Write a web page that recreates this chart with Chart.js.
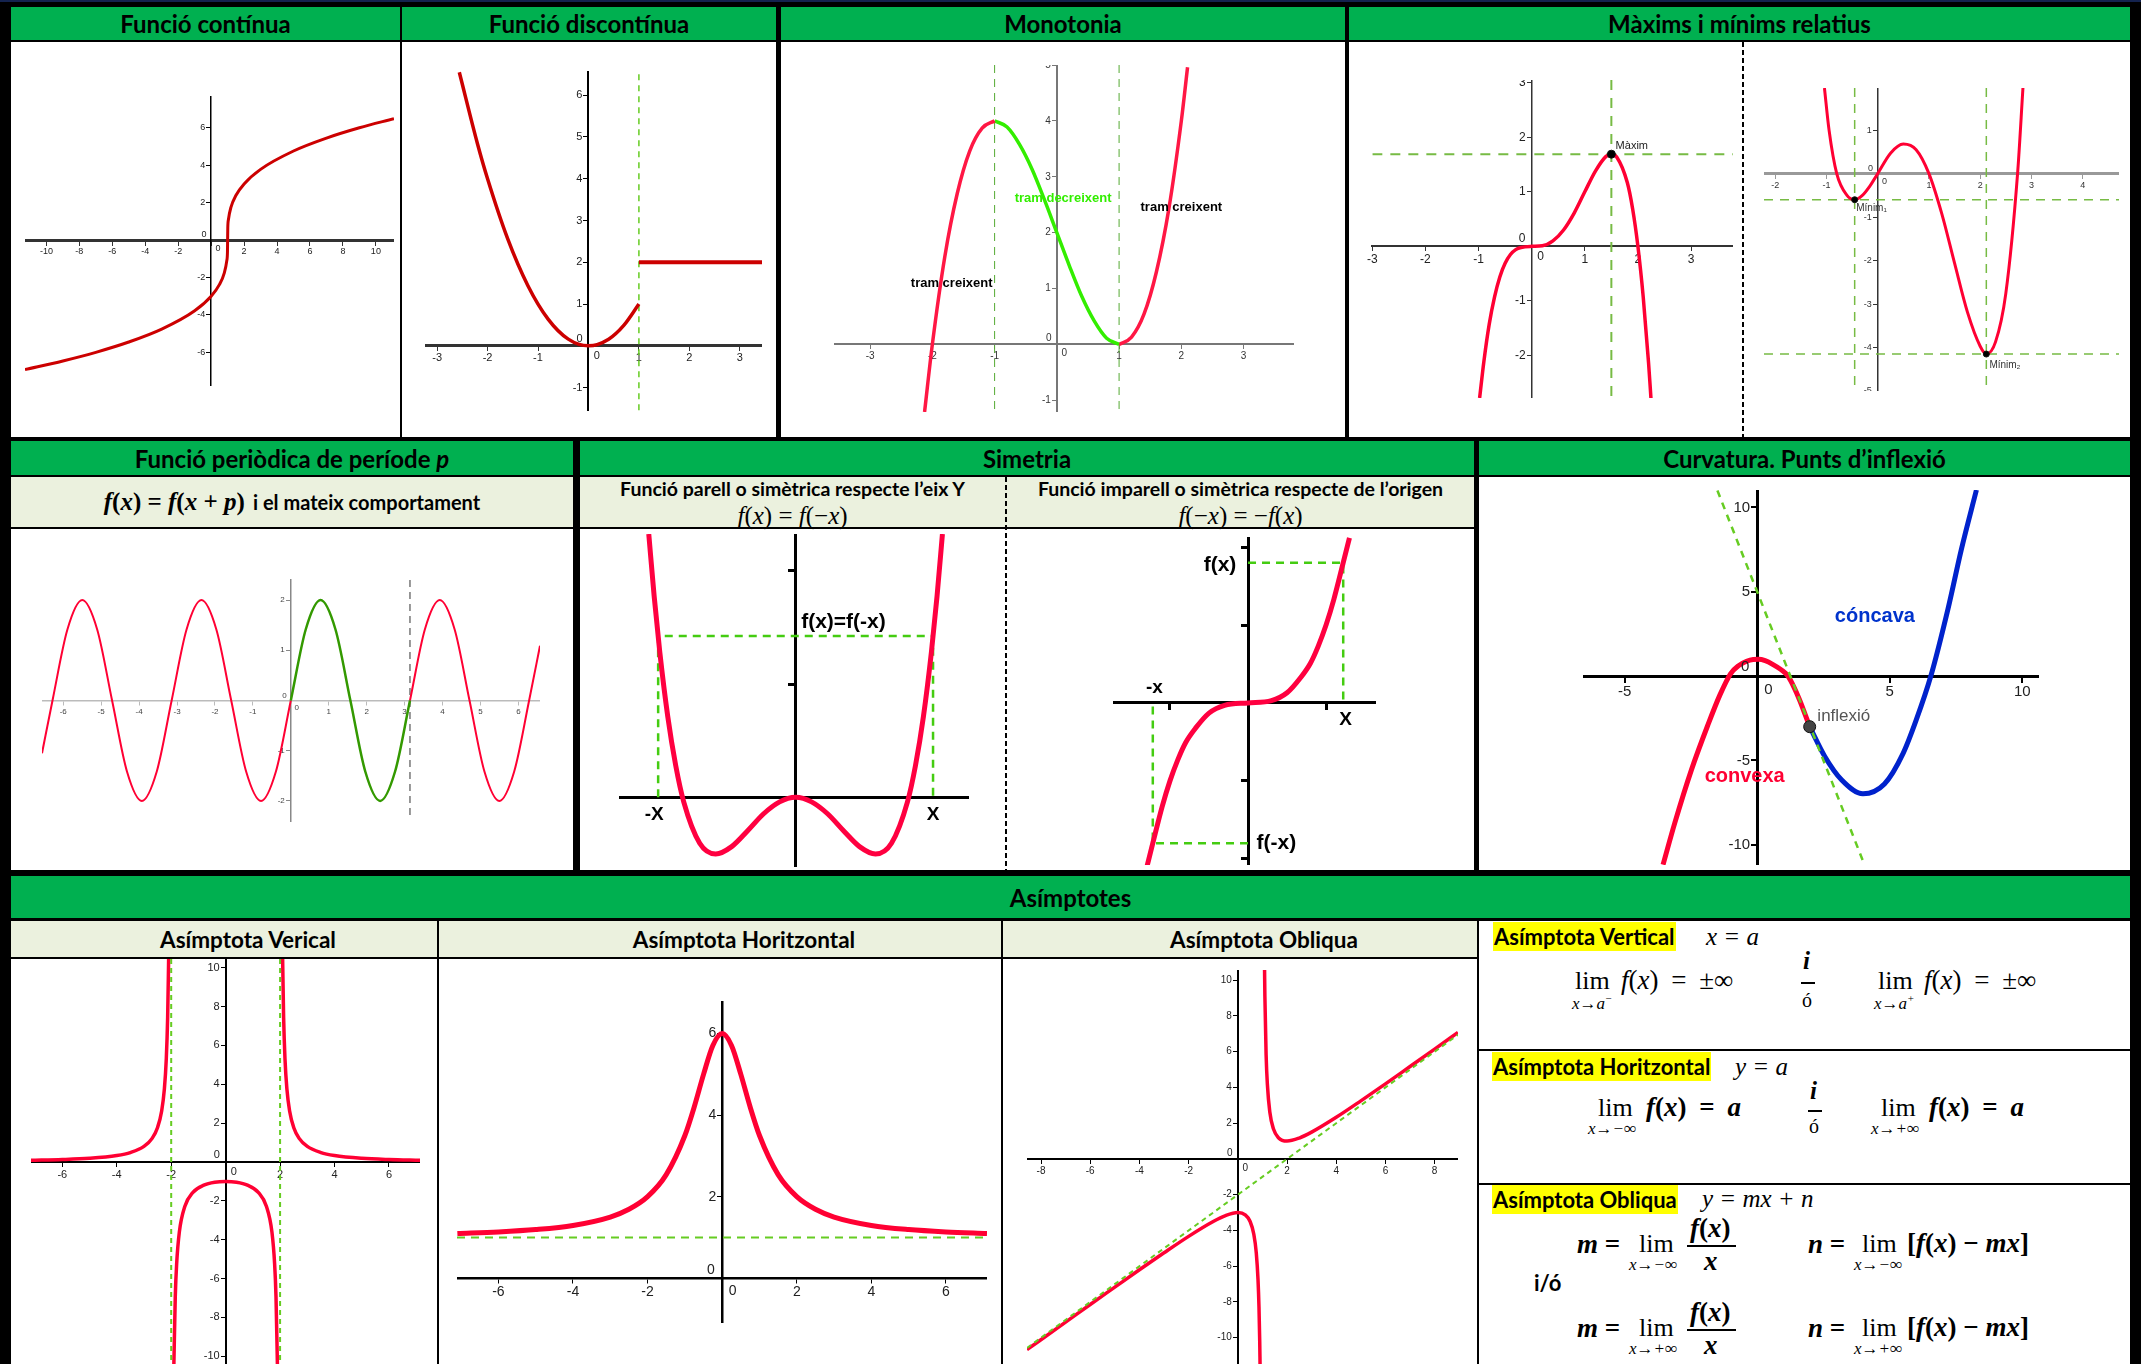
<!DOCTYPE html>
<html lang="ca">
<head>
<meta charset="UTF-8">
<title>Propietats de les funcions</title>
<script src="https://cdn.jsdelivr.net/npm/chart.js"></script>
<style>
  body { margin: 0; width: 2141px; height: 1364px; background: #000; position: relative; overflow: hidden; font-family: Lato, sans-serif; }
  .top { position: absolute; left: 0; top: 0; width: 2141px; height: 2px; background: #14234f; }
  .cell { position: absolute; background: #fff; }
  .hdr { position: absolute; background: #00b050; display: flex; align-items: center; justify-content: center; font-weight: 700; font-size: 24px; color: #000; }
  .sub { position: absolute; background: #ebf1de; }
  .subt { position: absolute; background: #ebf1de; display: flex; align-items: center; justify-content: center; font-weight: 700; font-size: 22.5px; padding-left: 48px; box-sizing: border-box; }
  .dots { position: absolute; height: 2px; background: repeating-linear-gradient(90deg, #000 0 5px, transparent 5px 7px); }
  .vdots { position: absolute; width: 2px; background: repeating-linear-gradient(180deg, #000 0 5px, transparent 5px 8px); }
  .chart { position: absolute; }
  .a { position: absolute; white-space: nowrap; line-height: 1; }
  .mr { font-family: "Liberation Serif", "DejaVu Serif", serif; }
  .mi { font-family: "Liberation Serif", "DejaVu Serif", serif; font-style: italic; }
  .b { font-weight: 700; }
  .ws { word-spacing: 6px; }
  .hl { background: #ffff00; font-weight: 700; font-size: 22px; height: 29px; line-height: 29px; padding: 0 1px; }
  .line { position: absolute; background: #000; }
  .ctr { position: absolute; text-align: center; white-space: nowrap; line-height: 1; }
</style>
</head>
<body>
<div class="top"></div>

<!-- fila 1 -->
<div class="hdr" style="left:11px;top:7px;width:389px;height:33px">Funció contínua</div>
<div class="hdr" style="left:402px;top:7px;width:374px;height:33px">Funció discontínua</div>
<div class="hdr" style="left:781px;top:7px;width:564px;height:33px">Monotonia</div>
<div class="hdr" style="left:1349px;top:7px;width:781px;height:33px">Màxims i mínims relatius</div>
<div class="cell" style="left:11px;top:42px;width:389px;height:395px"></div>
<div class="cell" style="left:402px;top:42px;width:374px;height:395px"></div>
<div class="cell" style="left:781px;top:42px;width:564px;height:395px"></div>
<div class="cell" style="left:1349px;top:42px;width:781px;height:395px"></div>
<div class="vdots" style="left:1742px;top:42px;height:395px"></div>

<!-- fila 2 -->
<div class="hdr" style="left:11px;top:441px;width:562px;height:34px">Funció periòdica de període&nbsp;<i>p</i></div>
<div class="hdr" style="left:580px;top:441px;width:894px;height:34px">Simetria</div>
<div class="hdr" style="left:1479px;top:441px;width:651px;height:34px">Curvatura. Punts d’inflexió</div>
<div class="sub" style="left:11px;top:477px;width:562px;height:50px"></div>
<div class="sub" style="left:580px;top:477px;width:894px;height:50px"></div>
<div class="dots" style="left:11px;top:527px;width:562px"></div>
<div class="dots" style="left:580px;top:527px;width:894px"></div>
<div class="cell" style="left:11px;top:529px;width:562px;height:341px"></div>
<div class="cell" style="left:580px;top:529px;width:894px;height:341px"></div>
<div class="cell" style="left:1479px;top:477px;width:651px;height:393px"></div>
<div class="vdots" style="left:1005px;top:477px;height:393px"></div>

<div class="ctr" style="left:11px;top:489px;width:562px">
  <span class="mr b" style="font-size:25px"><i>f</i>(<i>x</i>) = <i>f</i>(<i>x</i> + <i>p</i>)</span>&nbsp;&nbsp;<span class="b" style="font-size:20px">i el mateix comportament</span>
</div>
<div class="ctr b" style="left:580px;top:479px;width:425px;font-size:19.5px">Funció parell o simètrica respecte l’eix Y</div>
<div class="ctr mr" style="left:580px;top:503px;width:425px;font-size:25px"><i>f</i>(<i>x</i>) = <i>f</i>(−<i>x</i>)</div>
<div class="ctr b" style="left:1007px;top:479px;width:467px;font-size:19.5px">Funció imparell o simètrica respecte de l’origen</div>
<div class="ctr mr" style="left:1007px;top:503px;width:467px;font-size:25px"><i>f</i>(−<i>x</i>) = −<i>f</i>(<i>x</i>)</div>

<!-- fila 3 -->
<div class="hdr" style="left:11px;top:876px;width:2119px;height:42px">Asímptotes</div>
<div class="subt" style="left:11px;top:921px;width:426px;height:36px">Asímptota Verical</div>
<div class="subt" style="left:439px;top:921px;width:562px;height:36px">Asímptota Horitzontal</div>
<div class="subt" style="left:1003px;top:921px;width:474px;height:36px">Asímptota Obliqua</div>
<div class="cell" style="left:11px;top:959px;width:426px;height:405px"></div>
<div class="cell" style="left:439px;top:959px;width:562px;height:405px"></div>
<div class="cell" style="left:1003px;top:959px;width:474px;height:405px"></div>
<div class="cell" style="left:1479px;top:921px;width:651px;height:128px"></div>
<div class="cell" style="left:1479px;top:1051px;width:651px;height:132px"></div>
<div class="cell" style="left:1479px;top:1185px;width:651px;height:179px"></div>

<!-- asímptota vertical -->
<div class="a hl" style="left:1493px;top:922px">Asímptota Vertical</div>
<div class="a mi" style="left:1706px;top:924px;font-size:25px">x = a</div>
<div class="a mr" style="left:1575px;top:968px;font-size:26px">lim</div>
<div class="a mi" style="left:1572px;top:993px;font-size:17px">x→a<sup style="font-size:11px">−</sup></div>
<div class="a mr ws" style="left:1621px;top:967px;font-size:27px"><i>f</i>(<i>x</i>) = ±∞</div>
<div class="a mr b" style="left:1803px;top:948px;font-size:25px"><i>i</i></div>
<div class="line" style="left:1801px;top:982px;width:14px;height:2px"></div>
<div class="a mr" style="left:1802px;top:990px;font-size:20px">ó</div>
<div class="a mr" style="left:1878px;top:968px;font-size:26px">lim</div>
<div class="a mi" style="left:1874px;top:993px;font-size:17px">x→a<sup style="font-size:11px">+</sup></div>
<div class="a mr ws" style="left:1924px;top:967px;font-size:27px"><i>f</i>(<i>x</i>) = ±∞</div>

<!-- asímptota horitzontal -->
<div class="a hl" style="left:1492px;top:1052px">Asímptota Horitzontal</div>
<div class="a mi" style="left:1735px;top:1054px;font-size:25px">y = a</div>
<div class="a mr" style="left:1598px;top:1095px;font-size:26px">lim</div>
<div class="a mi" style="left:1588px;top:1120px;font-size:17px">x→−∞</div>
<div class="a mr b ws" style="left:1646px;top:1094px;font-size:27px"><i>f</i>(<i>x</i>) = <i>a</i></div>
<div class="a mr b" style="left:1810px;top:1078px;font-size:25px"><i>i</i></div>
<div class="line" style="left:1808px;top:1110px;width:14px;height:2px"></div>
<div class="a mr" style="left:1809px;top:1116px;font-size:20px">ó</div>
<div class="a mr" style="left:1881px;top:1095px;font-size:26px">lim</div>
<div class="a mi" style="left:1871px;top:1120px;font-size:17px">x→+∞</div>
<div class="a mr b ws" style="left:1929px;top:1094px;font-size:27px"><i>f</i>(<i>x</i>) = <i>a</i></div>

<!-- asímptota obliqua -->
<div class="a hl" style="left:1492px;top:1185px">Asímptota Obliqua</div>
<div class="a mi" style="left:1702px;top:1186px;font-size:25px">y = mx + n</div>

<div class="a mr b" style="left:1577px;top:1231px;font-size:27px"><i>m</i> =</div>
<div class="a mr" style="left:1639px;top:1231px;font-size:26px">lim</div>
<div class="a mi" style="left:1629px;top:1256px;font-size:17px">x→−∞</div>
<div class="a mr b" style="left:1690px;top:1215px;font-size:27px"><i>f</i>(<i>x</i>)</div>
<div class="line" style="left:1687px;top:1245px;width:49px;height:2px"></div>
<div class="a mi b" style="left:1704px;top:1248px;font-size:27px">x</div>
<div class="a mr b" style="left:1808px;top:1231px;font-size:27px"><i>n</i> =</div>
<div class="a mr" style="left:1862px;top:1231px;font-size:26px">lim</div>
<div class="a mi" style="left:1854px;top:1256px;font-size:17px">x→−∞</div>
<div class="a mr b" style="left:1907px;top:1230px;font-size:27px">[<i>f</i>(<i>x</i>) − <i>mx</i>]</div>

<div class="a b" style="left:1534px;top:1272px;font-size:22px">i/ó</div>

<div class="a mr b" style="left:1577px;top:1315px;font-size:27px"><i>m</i> =</div>
<div class="a mr" style="left:1639px;top:1315px;font-size:26px">lim</div>
<div class="a mi" style="left:1629px;top:1340px;font-size:17px">x→+∞</div>
<div class="a mr b" style="left:1690px;top:1299px;font-size:27px"><i>f</i>(<i>x</i>)</div>
<div class="line" style="left:1687px;top:1329px;width:49px;height:2px"></div>
<div class="a mi b" style="left:1704px;top:1332px;font-size:27px">x</div>
<div class="a mr b" style="left:1808px;top:1315px;font-size:27px"><i>n</i> =</div>
<div class="a mr" style="left:1862px;top:1315px;font-size:26px">lim</div>
<div class="a mi" style="left:1854px;top:1340px;font-size:17px">x→+∞</div>
<div class="a mr b" style="left:1907px;top:1314px;font-size:27px">[<i>f</i>(<i>x</i>) − <i>mx</i>]</div>

<script>
// ---- valors llegits de la imatge ----
// Funció contínua
const contX = [-11.3, -9, -7, -5, -3, -1, 0, 0.5, 0.8, 0.95, 0.99, 1, 1.01, 1.05, 1.2, 1.5, 2, 3, 5, 7, 9, 11.1];
const contY = [-6.92, -6.46, -6.0, -5.45, -4.76, -3.78, -3.0, -2.38, -1.75, -1.1, -0.65, 0, 0.65, 1.1, 1.75, 2.38, 3.0, 3.78, 4.76, 5.45, 6.0, 6.49];
// Funció discontínua
const parX = [-2.56, -2.2, -2, -1.6, -1.2, -0.8, -0.4, 0, 0.4, 0.7, 1];
const parY = [6.55, 4.84, 4, 2.56, 1.44, 0.64, 0.16, 0, 0.16, 0.49, 1];
const stepX = [1, 3.44];
const stepY = [2, 2];
const discDashX = [1, 1];
const discDashY = [6.5, -1.56];
// Monotonia
const monoRed1X = [-2.125, -2, -1.8, -1.6, -1.4, -1.2, -1];
const monoRed1Y = [-1.21, 0, 1.57, 2.7, 3.46, 3.87, 4];
const monoGreenX = [-1, -0.8, -0.6, -0.4, -0.2, 0, 0.2, 0.4, 0.6, 0.8, 1];
const monoGreenY = [4, 3.89, 3.58, 3.14, 2.59, 2, 1.41, 0.86, 0.42, 0.11, 0];
const monoRed2X = [1, 1.2, 1.4, 1.6, 1.8, 2, 2.1];
const monoRed2Y = [0, 0.13, 0.54, 1.3, 2.43, 4, 4.96];
const monoDashX = [-1, 1];
// Màxim
const maxX = [-0.98, -0.9, -0.8, -0.7, -0.6, -0.5, -0.4, -0.3, -0.2, 0, 0.2, 0.4, 0.6, 0.8, 1, 1.2, 1.4, 1.5, 1.6, 1.8, 1.9, 2, 2.1, 2.2, 2.245];
const maxY = [-2.78, -2.11, -1.43, -0.93, -0.56, -0.31, -0.15, -0.06, -0.02, 0, 0.01, 0.10, 0.30, 0.61, 1.0, 1.38, 1.65, 1.69, 1.64, 1.17, 0.69, 0, -0.93, -2.13, -2.78];
const maxPt = [1.5, 1.69];
// Mínims
const minX = [-1.04, -0.95, -0.8, -0.6, -0.45, -0.3, -0.15, 0, 0.25, 0.5, 0.75, 1, 1.25, 1.5, 1.75, 2, 2.12, 2.3, 2.5, 2.73, 2.835];
const minY = [1.97, 1.0, 0, -0.5, -0.6, -0.5, -0.28, 0, 0.47, 0.68, 0.55, 0, -0.92, -2.06, -3.18, -3.97, -4.15, -3.87, -2.76, 0, 1.97];
const minPtX = [-0.45, 2.12];
const minPtY = [-0.6, -4.15];
// Funció periòdica
const perLeftX = [-6.56, -6.283, -5.890, -5.498, -5.105, -4.712, -4.320, -3.927, -3.534, -3.142, -2.749, -2.356, -1.963, -1.571, -1.178, -0.785, -0.393, 0];
const perLeftY = [-1.05, 0, 1.414, 2, 1.414, 0, -1.414, -2, -1.414, 0, 1.414, 2, 1.414, 0, -1.414, -2, -1.414, 0];
const perMidX = [0, 0.393, 0.785, 1.178, 1.571, 1.963, 2.356, 2.749, 3.142];
const perMidY = [0, 1.414, 2, 1.414, 0, -1.414, -2, -1.414, 0];
const perRightX = [3.142, 3.534, 3.927, 4.320, 4.712, 5.105, 5.498, 5.890, 6.283, 6.57];
const perRightY = [0, 1.414, 2, 1.414, 0, -1.414, -2, -1.414, 0, 1.09];
const perDashY = [2.4, -2.35];
// Simetria parella
const evenX = [-1.8375, -1.77, -1.7, -1.6, -1.5, -1.4, -1.2, -1, -0.8, -0.6, -0.4, -0.2, 0, 0.2, 0.4, 0.6, 0.8, 1, 1.2, 1.4, 1.5, 1.6, 1.7, 1.77, 1.8375];
const evenY = [4.65, 3.55, 2.57, 1.43, 0.56, -0.08, -0.81, -1, -0.87, -0.59, -0.29, -0.08, 0, -0.08, -0.29, -0.59, -0.87, -1, -0.81, -0.08, 0.56, 1.43, 2.57, 3.55, 4.65];
const evenDashX = [-1.72, -1.72, 1.72, 1.72];
const evenDashY = [0, 2.85, 2.85, 0];
// Simetria imparella
const oddX = [-1.30, -1.22, -1.1, -1.0, -0.9, -0.8, -0.67, -0.5, -0.3, 0, 0.3, 0.5, 0.67, 0.8, 0.9, 1.0, 1.1, 1.22, 1.30];
const oddY = [-2.12, -1.80, -1.33, -1.0, -0.73, -0.51, -0.32, -0.13, -0.03, 0, 0.03, 0.13, 0.32, 0.51, 0.73, 1.0, 1.33, 1.80, 2.12];
const oddDashPX = [0, 1.22, 1.22];
const oddDashPY = [1.80, 1.80, 0];
const oddDashNX = [0, -1.22, -1.22];
const oddDashNY = [-1.80, -1.80, 0];
// Curvatura
const curvRedX = [-3.55, -3.11, -2.48, -1.86, -1.4, -1.0, -0.7, -0.4, -0.15, 0.05, 0.3, 0.6, 0.9, 1.16, 1.4, 1.6, 1.98];
const curvRedY = [-11.18, -8.72, -5.56, -2.9, -1.1, 0.15, 0.62, 0.88, 0.98, 0.99, 0.91, 0.68, 0.38, 0, -0.7, -1.42, -3.0];
const curvBlueX = [1.98, 2.55, 3.18, 3.99, 4.8, 5.5, 6.0, 6.55, 7.2, 7.7, 8.27];
const curvBlueY = [-3.0, -4.77, -6.15, -6.98, -6.4, -4.6, -2.6, 0, 4.0, 7.5, 11.03];
const tangX = [-1.5, 4.03];
const tangY = [11.0, -11.12];
const inflX = [1.98];
const inflY = [-3.0];
// Asímptota vertical
const avLeftX = [-7.15, -6, -5, -4, -3.5, -3, -2.7, -2.5, -2.35, -2.25, -2.18, -2.13, -2.094];
const avLeftY = [0.085, 0.125, 0.19, 0.333, 0.485, 0.8, 1.216, 1.778, 2.627, 3.765, 5.316, 7.45, 10.45];
const avMidX = [-1.902, -1.85, -1.8, -1.7, -1.5, -1.2, -0.8, -0.4, 0, 0.4, 0.8, 1.2, 1.5, 1.7, 1.8, 1.85, 1.902];
const avMidY = [-10.45, -6.93, -5.26, -3.6, -2.29, -1.56, -1.19, -1.04, -1, -1.04, -1.19, -1.56, -2.29, -3.6, -5.26, -6.93, -10.45];
const avRightX = [2.094, 2.13, 2.18, 2.25, 2.35, 2.5, 2.7, 3, 3.5, 4, 5, 6, 7.14];
const avRightY = [10.45, 7.45, 5.316, 3.765, 2.627, 1.778, 1.216, 0.8, 0.485, 0.333, 0.19, 0.125, 0.085];
const avDashY = [10.45, -10.4];
// Asímptota horitzontal
const ahX = [-7.1, -6, -5, -4, -3, -2.5, -2, -1.5, -1, -0.75, -0.5, -0.25, 0, 0.25, 0.5, 0.75, 1, 1.5, 2, 2.5, 3, 4, 5, 6, 7.1];
const ahY = [1.097, 1.135, 1.192, 1.294, 1.5, 1.69, 2.0, 2.54, 3.5, 4.2, 5.0, 5.71, 6.0, 5.71, 5.0, 4.2, 3.5, 2.54, 2.0, 1.69, 1.5, 1.294, 1.192, 1.135, 1.097];
const ahDashX = [-7.11, 7.1];
const ahDashY = [1, 1];
// Asímptota obliqua
const aoRightX = [1.087, 1.1, 1.15, 1.2, 1.3, 1.45, 1.65, 2, 2.5, 3, 4, 5, 6, 7, 8, 8.95];
const aoRightY = [10.58, 9.1, 5.82, 4.2, 2.63, 1.67, 1.19, 1, 1.17, 1.5, 2.33, 3.25, 4.2, 5.17, 6.14, 7.08];
const aoLeftX = [-8.57, -7, -6, -5, -4, -3, -2, -1, -0.5, 0, 0.3, 0.5, 0.65, 0.75, 0.82, 0.86, 0.89, 0.904];
const aoLeftY = [-10.67, -9.13, -8.14, -7.17, -6.2, -5.25, -4.33, -3.5, -3.17, -3.0, -3.13, -3.5, -4.21, -5.25, -6.74, -8.28, -10.2, -11.5];
const aoDashX = [-8.57, 8.95];
const aoDashY = [-10.57, 6.95];

// ---- estil ----
const RED = '#ff0033';
const DRED = '#cc0000';
const LIME = '#66cc22';
const SANS = '"Liberation Sans", Arial, sans-serif';
Chart.defaults.font.family = SANS;

// caixes de cada gràfic: left, top, width, height
const boxes = {
  cont: [25, 96, 369, 290],
  disc: [425, 71, 337, 340],
  mono: [834, 65, 460, 347],
  max: [1365, 80, 368, 318],
  min: [1764, 88, 355, 303],
  per: [42, 579, 498, 243],
  even: [619, 534, 350, 333],
  odd: [1113, 537, 263, 328],
  curv: [1583, 490, 456, 375],
  av: [31, 959, 389, 405],
  ah: [457, 1001, 530, 322],
  ao: [1027, 970, 431, 394]
};

// etiquetes de l'eix Y (a l'esquerra de l'eix) i textos sobre el gràfic
const annot = {
  id: 'annot',
  beforeDatasetsDraw(chart, args, opts) {
    const yl = opts.yl;
    if (!yl) return;
    const ctx = chart.ctx, sx = chart.scales.x, sy = chart.scales.y;
    const x0 = sx.getPixelForValue(0) - yl.tl - 2;
    ctx.save();
    ctx.font = yl.fs + 'px ' + SANS;
    ctx.fillStyle = yl.color;
    ctx.textAlign = 'right';
    ctx.textBaseline = 'middle';
    for (const t of sy.ticks) {
      if (t.value !== 0) ctx.fillText(String(t.value), x0, sy.getPixelForValue(t.value));
    }
    ctx.restore();
  },
  afterDatasetsDraw(chart, args, opts) {
    const ctx = chart.ctx, sx = chart.scales.x, sy = chart.scales.y;
    for (const t of opts.items || []) {
      ctx.save();
      ctx.font = t.font;
      ctx.fillStyle = t.color || '#000';
      ctx.textAlign = t.align || 'center';
      ctx.textBaseline = 'middle';
      ctx.fillText(t.text, sx.getPixelForValue(t.x) + (t.dx || 0), sy.getPixelForValue(t.y) + (t.dy || 0));
      ctx.restore();
    }
  }
};
Chart.register(annot);

const pts = (xs, ys) => xs.map((x, i) => ({x: x, y: ys[i]}));

function curve(xs, ys, color, width) {
  return {data: pts(xs, ys), showLine: true, borderColor: color, borderWidth: width, pointRadius: 0,
    cubicInterpolationMode: 'monotone', fill: false};
}
function dash(xs, ys, color, width, pattern) {
  return {data: pts(xs, ys), showLine: true, borderColor: color, borderWidth: width, pointRadius: 0,
    borderDash: pattern, tension: 0, fill: false};
}
function dots(xs, ys, color, r) {
  return {data: pts(xs, ys), showLine: false, pointRadius: r, backgroundColor: color, borderColor: '#111', borderWidth: 1};
}

function axis(min, max, step, o) {
  o = o || {};
  return {
    type: 'linear', min: min, max: max,
    grid: {display: o.noTicks ? false : true, drawOnChartArea: false, drawTicks: true, tickLength: o.tl || 4, color: o.color || '#000', lineWidth: o.tw || 1},
    border: {display: true, color: o.color || '#000', width: o.width || 2},
    ticks: {display: !o.hide, stepSize: step, includeBounds: false, autoSkip: false, maxRotation: 0, padding: 2,
      color: o.tc || '#222', font: {size: o.fs || 10},
      callback: v => (v === 0 ? '' : String(v))}
  };
}

function zero(fs, color) {
  const f = fs + 'px ' + SANS;
  return [
    {x: 0, y: 0, dx: 0.75 * fs, dy: 0.9 * fs, text: '0', font: f, color: color || '#222'},
    {x: 0, y: 0, dx: -0.8 * fs, dy: -0.6 * fs, text: '0', font: f, color: color || '#222'}
  ];
}

function plot(id, datasets, xs, ys, items) {
  const b = boxes[id];
  const wrap = document.createElement('div');
  wrap.className = 'chart';
  wrap.style.cssText = 'left:' + b[0] + 'px;top:' + b[1] + 'px;width:' + b[2] + 'px;height:' + b[3] + 'px';
  const cv = document.createElement('canvas');
  wrap.appendChild(cv);
  document.body.appendChild(wrap);
  xs.position = {y: 0};
  ys.position = {x: 0};
  // les etiquetes Y les dibuixa el connector, alineades a l'esquerra de l'eix
  const yl = ys.ticks.display ? {fs: ys.ticks.font.size, color: ys.ticks.color, tl: ys.grid.tickLength} : null;
  ys.ticks.display = false;
  return new Chart(cv, {
    type: 'scatter',
    data: {datasets: datasets},
    options: {
      responsive: true, maintainAspectRatio: false, animation: false, events: [],
      layout: {padding: 0, autoPadding: false},
      plugins: {legend: {display: false}, tooltip: {enabled: false}, annot: {items: items || [], yl: yl}},
      scales: {x: xs, y: ys}
    }
  });
}

// Funció contínua
plot('cont', [curve(contX, contY, DRED, 3)],
  axis(-11.3, 11.1, 2, {fs: 9, width: 3, color: '#333'}),
  axis(-7.8, 7.7, 2, {fs: 9, width: 1.5}),
  zero(9));

// Funció discontínua
plot('disc', [
    curve(parX, parY, DRED, 3.5),
    curve(stepX, stepY, DRED, 4),
    dash(discDashX, discDashY, LIME, 1.5, [6, 5])
  ],
  axis(-3.24, 3.44, 1, {fs: 11, width: 3, color: '#333'}),
  axis(-1.56, 6.58, 1, {fs: 11, width: 2}),
  zero(11));

// Monotonia
const monoLbl = 'bold 13px ' + SANS;
plot('mono', [
    curve(monoRed1X, monoRed1Y, '#ff1744', 3.5),
    curve(monoGreenX, monoGreenY, '#33ee00', 3.5),
    curve(monoRed2X, monoRed2Y, '#ff1744', 3.5),
    dash([monoDashX[0], monoDashX[0]], [5, -1.21], '#55aa33', 1, [8, 6]),
    dash([monoDashX[1], monoDashX[1]], [5, -1.21], '#55aa33', 1, [8, 6])
  ],
  axis(-3.58, 3.81, 1, {fs: 10, width: 2, color: '#777', tc: '#333'}),
  axis(-1.21, 5.0, 1, {fs: 10, width: 2, color: '#777', tc: '#333'}),
  zero(10, '#333').concat([
    {x: -1.69, y: 1.09, text: 'tram creixent', font: monoLbl},
    {x: 0.1, y: 2.61, text: 'tram decreixent', font: monoLbl, color: '#33ee00'},
    {x: 2.0, y: 2.45, text: 'tram creixent', font: monoLbl}
  ]));

// Màxim
plot('max', [
    dots([maxPt[0]], [maxPt[1]], '#000', 4),
    curve(maxX, maxY, RED, 3.5),
    dash([-3.0, 3.79], [maxPt[1], maxPt[1]], '#77bb44', 2, [10, 8]),
    dash([maxPt[0], maxPt[0]], [3.05, -2.78], '#77bb44', 2, [10, 8])
  ],
  axis(-3.0, 3.79, 1, {fs: 12, width: 2, color: '#333'}),
  axis(-2.78, 3.05, 1, {fs: 12, width: 1.5, color: '#333'}),
  zero(12).concat([{x: 1.58, y: 1.84, text: 'Màxim', font: '11px ' + SANS, align: 'left', color: '#222'}]));

// Mínims
plot('min', [
    dots(minPtX, minPtY, '#000', 3),
    curve(minX, minY, RED, 3),
    dash([-2.22, 4.71], [minPtY[0], minPtY[0]], '#77bb44', 1.5, [9, 7]),
    dash([-2.22, 4.71], [minPtY[1], minPtY[1]], '#77bb44', 1.5, [9, 7]),
    dash([minPtX[0], minPtX[0]], [1.97, -5], '#77bb44', 1.5, [9, 7]),
    dash([minPtX[1], minPtX[1]], [1.97, -5], '#77bb44', 1.5, [9, 7])
  ],
  axis(-2.22, 4.71, 1, {fs: 9, width: 3, color: '#999', tc: '#333'}),
  axis(-5.0, 1.97, 1, {fs: 9, width: 1.5, color: '#333', tc: '#333'}),
  zero(9, '#333').concat([
    {x: -0.42, y: -0.8, text: 'Mínim₁', font: '10px ' + SANS, align: 'left', color: '#333'},
    {x: 2.18, y: -4.4, text: 'Mínim₂', font: '10px ' + SANS, align: 'left', color: '#333'}
  ]));

// Funció periòdica
plot('per', [
    curve(perMidX, perMidY, '#339900', 2.5),
    curve(perLeftX, perLeftY, RED, 2),
    curve(perRightX, perRightY, RED, 2),
    dash([Math.PI, Math.PI], perDashY, '#777', 1.5, [7, 5])
  ],
  axis(-6.56, 6.57, 1, {fs: 8, width: 1.5, color: '#bbb', tc: '#444'}),
  axis(-2.42, 2.42, 1, {fs: 8, width: 1.5, color: '#888', tc: '#444'}),
  zero(8, '#444'));

// Simetria: funció parella
const symFont = 'bold 21px ' + SANS;
plot('even', [
    curve(evenX, evenY, '#ff0040', 5),
    dash(evenDashX, evenDashY, '#44cc11', 2.5, [8, 6])
  ],
  axis(-2.21, 2.17, 1, {width: 3, noTicks: true, hide: true}),
  axis(-1.23, 4.65, 2, {width: 3, hide: true, tl: 6, tw: 3}),
  [
    {x: 0.07, y: 3.10, text: 'f(x)=f(-x)', font: symFont, align: 'left'},
    {x: -1.77, y: -0.31, text: '-X', font: 'bold 19px ' + SANS},
    {x: 1.72, y: -0.31, text: 'X', font: 'bold 19px ' + SANS}
  ]);

// Simetria: funció imparella
plot('odd', [
    curve(oddX, oddY, '#ff0040', 5),
    dash(oddDashPX, oddDashPY, '#44cc11', 2.5, [8, 6]),
    dash(oddDashNX, oddDashNY, '#44cc11', 2.5, [8, 6])
  ],
  axis(-1.73, 1.64, 1, {width: 3, hide: true, tl: 6, tw: 3}),
  axis(-2.08, 2.13, 1, {width: 3, hide: true, tl: 6, tw: 3}),
  [
    {x: -0.15, y: 1.77, text: 'f(x)', font: symFont, align: 'right'},
    {x: -1.2, y: 0.2, text: '-x', font: 'bold 19px ' + SANS},
    {x: 1.25, y: -0.22, text: 'X', font: 'bold 19px ' + SANS},
    {x: 0.11, y: -1.80, text: 'f(-x)', font: symFont, align: 'left'}
  ]);

// Curvatura
plot('curv', [
    dots(inflX, inflY, '#444', 6),
    dash(tangX, tangY, LIME, 2.5, [7, 6]),
    curve(curvRedX, curvRedY, RED, 5),
    curve(curvBlueX, curvBlueY, '#0022cc', 5)
  ],
  axis(-6.57, 10.63, 5, {fs: 15, width: 3, tl: 5, tw: 2}),
  axis(-11.2, 11.03, 5, {fs: 15, width: 3, tl: 5, tw: 2}),
  zero(15).concat([
    {x: 2.93, y: 3.54, text: 'cóncava', font: 'bold 20px ' + SANS, align: 'left', color: '#0033cc'},
    {x: -1.98, y: -5.96, text: 'convexa', font: 'bold 20px ' + SANS, align: 'left', color: RED},
    {x: 2.27, y: -2.41, text: 'inflexió', font: '17px ' + SANS, align: 'left', color: '#555'}
  ]));

// Asímptota vertical
plot('av', [
    dash([-2, -2], avDashY, LIME, 2, [5, 4]),
    dash([2, 2], avDashY, LIME, 2, [5, 4]),
    curve(avLeftX, avLeftY, RED, 3.5),
    curve(avMidX, avMidY, RED, 3.5),
    curve(avRightX, avRightY, RED, 3.5)
  ],
  axis(-7.15, 7.14, 2, {fs: 11, width: 2}),
  axis(-10.4, 10.45, 2, {fs: 11, width: 2}),
  zero(11));

// Asímptota horitzontal
plot('ah', [
    curve(ahX, ahY, RED, 5),
    dash(ahDashX, ahDashY, LIME, 2, [8, 6])
  ],
  axis(-7.11, 7.1, 2, {fs: 14, width: 2.5}),
  axis(-1.1, 6.8, 2, {fs: 14, width: 2.5}),
  zero(14));

// Asímptota obliqua
plot('ao', [
    dash(aoDashX, aoDashY, LIME, 2, [5, 4]),
    curve(aoRightX, aoRightY, RED, 3.5),
    curve(aoLeftX, aoLeftY, RED, 3.5)
  ],
  axis(-8.57, 8.95, 2, {fs: 10, width: 2}),
  axis(-11.47, 10.57, 2, {fs: 10, width: 2}),
  zero(10));
</script>
</body>
</html>
